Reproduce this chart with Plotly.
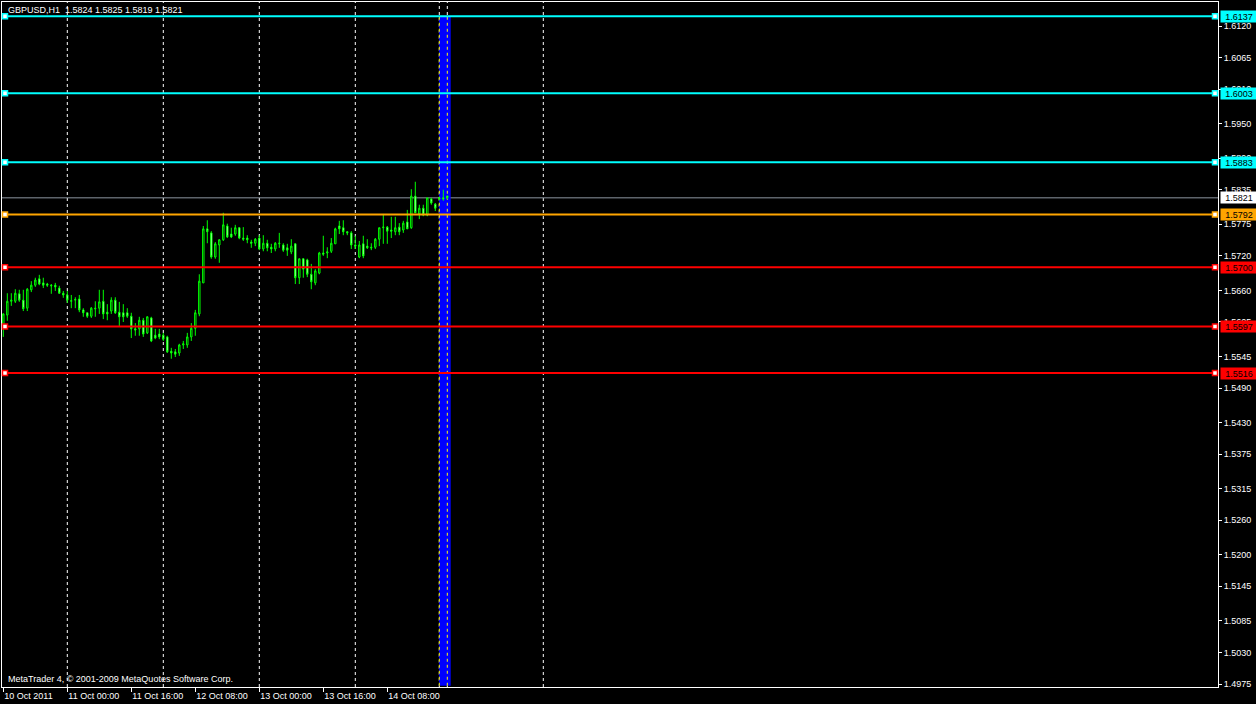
import plotly.graph_objects as go

# ---------------- data ----------------
bar_index = list(range(112))  # H1 bars from 10 Oct 2011 08:00 to 14 Oct 2011 23:00

opens = [1.5601,1.5617,1.5641,1.5641,1.5654,1.5643,1.5629,1.5661,1.5669,1.5680,
         1.5673,1.5671,1.5669,1.5669,1.5664,1.5655,1.5652,1.5641,1.5643,1.5645,
         1.5626,1.5621,1.5615,1.5629,1.5629,1.5641,1.5622,1.5624,1.5643,1.5622,
         1.5621,1.5621,1.5615,1.5593,1.5593,1.5608,1.5586,1.5612,1.5582,1.5584,
         1.5582,1.5579,1.5554,1.5553,1.5551,1.5565,1.5565,1.5579,1.5594,1.5619,
         1.5673,1.5767,1.5760,1.5718,1.5739,1.5748,1.5772,1.5758,1.5758,1.5769,
         1.5751,1.5751,1.5744,1.5742,1.5751,1.5732,1.5742,1.5735,1.5732,1.5741,
         1.5739,1.5734,1.5727,1.5741,1.5682,1.5715,1.5713,1.5688,1.5673,1.5690,
         1.5725,1.5725,1.5728,1.5741,1.5772,1.5769,1.5762,1.5760,1.5739,1.5718,
         1.5741,1.5737,1.5735,1.5735,1.5749,1.5769,1.5770,1.5765,1.5762,1.5770,
         1.5765,1.5779,1.5769,1.5824,1.5793,1.5803,1.5791,1.5819,1.5810,1.5821,
         1.5821,1.5824]
highs = [1.5620,1.5655,1.5655,1.5662,1.5661,1.5661,1.5664,1.5676,1.5682,1.5687,
         1.5682,1.5673,1.5671,1.5673,1.5668,1.5659,1.5659,1.5652,1.5648,1.5652,
         1.5629,1.5621,1.5631,1.5641,1.5661,1.5661,1.5636,1.5648,1.5648,1.5640,
         1.5636,1.5629,1.5621,1.5603,1.5614,1.5612,1.5615,1.5614,1.5593,1.5593,
         1.5586,1.5581,1.5560,1.5558,1.5567,1.5572,1.5586,1.5603,1.5626,1.5688,
         1.5772,1.5782,1.5763,1.5744,1.5749,1.5795,1.5776,1.5769,1.5774,1.5770,
         1.5770,1.5756,1.5748,1.5751,1.5756,1.5756,1.5748,1.5741,1.5744,1.5760,
         1.5742,1.5741,1.5749,1.5742,1.5715,1.5716,1.5715,1.5706,1.5697,1.5727,
         1.5755,1.5735,1.5751,1.5769,1.5781,1.5782,1.5763,1.5763,1.5755,1.5746,
         1.5755,1.5749,1.5742,1.5751,1.5769,1.5793,1.5772,1.5788,1.5788,1.5777,
         1.5781,1.5800,1.5836,1.5849,1.5809,1.5809,1.5821,1.5821,1.5812,1.5822,
         1.5835,1.5825]
lows = [1.5579,1.5607,1.5633,1.5638,1.5640,1.5624,1.5624,1.5657,1.5666,1.5669,
        1.5664,1.5666,1.5654,1.5659,1.5654,1.5647,1.5638,1.5629,1.5629,1.5622,
        1.5614,1.5612,1.5612,1.5614,1.5619,1.5610,1.5608,1.5619,1.5619,1.5598,
        1.5605,1.5612,1.5577,1.5581,1.5581,1.5579,1.5584,1.5570,1.5575,1.5575,
        1.5572,1.5551,1.5541,1.5544,1.5546,1.5558,1.5560,1.5572,1.5581,1.5615,
        1.5673,1.5742,1.5715,1.5715,1.5708,1.5746,1.5751,1.5751,1.5755,1.5749,
        1.5746,1.5742,1.5734,1.5737,1.5730,1.5728,1.5728,1.5725,1.5728,1.5734,
        1.5727,1.5720,1.5723,1.5671,1.5671,1.5682,1.5683,1.5662,1.5669,1.5688,
        1.5720,1.5716,1.5725,1.5741,1.5758,1.5756,1.5756,1.5732,1.5732,1.5716,
        1.5716,1.5732,1.5730,1.5732,1.5737,1.5741,1.5741,1.5751,1.5756,1.5756,
        1.5760,1.5767,1.5767,1.5795,1.5784,1.5789,1.5789,1.5809,1.5798,1.5817,
        1.5816,1.5819]
closes = [1.5619,1.5641,1.5643,1.5655,1.5643,1.5628,1.5662,1.5669,1.5678,1.5671,
          1.5669,1.5669,1.5668,1.5666,1.5655,1.5652,1.5643,1.5642,1.5644,1.5626,
          1.5621,1.5615,1.5629,1.5628,1.5640,1.5619,1.5619,1.5643,1.5621,1.5614,
          1.5614,1.5615,1.5593,1.5591,1.5608,1.5584,1.5614,1.5572,1.5577,1.5579,
          1.5575,1.5553,1.5551,1.5549,1.5565,1.5567,1.5579,1.5594,1.5621,1.5676,
          1.5767,1.5762,1.5718,1.5741,1.5748,1.5774,1.5753,1.5753,1.5769,1.5751,
          1.5749,1.5748,1.5742,1.5749,1.5732,1.5742,1.5734,1.5732,1.5742,1.5742,
          1.5730,1.5730,1.5737,1.5682,1.5715,1.5697,1.5688,1.5675,1.5694,1.5725,
          1.5723,1.5727,1.5742,1.5767,1.5767,1.5762,1.5760,1.5739,1.5737,1.5739,
          1.5720,1.5734,1.5734,1.5749,1.5769,1.5770,1.5763,1.5763,1.5769,1.5762,
          1.5777,1.5767,1.5824,1.5795,1.5803,1.5791,1.5821,1.5812,1.5803,1.5819,
          1.5819,1.5821]

time_tick_bars = [0, 16, 32, 48, 64, 80, 96]
time_tick_labels = ["10 Oct 2011", "11 Oct 00:00", "11 Oct 16:00", "12 Oct 08:00",
                    "13 Oct 00:00", "13 Oct 16:00", "14 Oct 08:00"]
day_separator_bars = [16, 40, 64, 88, 135]
marker_line_bars = [109, 111]
band_bars = [109, 112]
band_prices = [1.4972, 1.6137]

price_ticks = [1.6120, 1.6065, 1.6010, 1.5950, 1.5890, 1.5835, 1.5775, 1.5720, 1.5660,
               1.5605, 1.5545, 1.5490, 1.5430, 1.5375, 1.5315, 1.5260, 1.5200, 1.5145,
               1.5085, 1.5030, 1.4975]

level_prices = [1.6137, 1.6003, 1.5883, 1.5792, 1.5700, 1.5597, 1.5516]
level_colors = ["#00FFFF", "#00FFFF", "#00FFFF", "#FFA500", "#FF0000", "#FF0000", "#FF0000"]
bid_price = 1.5821

title_text = "GBPUSD,H1  1.5824 1.5825 1.5819 1.5821"
copyright_text = "MetaTrader 4, © 2001-2009 MetaQuotes Software Corp."

# ---------------- layout constants ----------------
W, H = 1256, 704
ML, MR, MT, MB = 2, 38, 2, 17
PW = W - ML - MR
PH = H - MT - MB
FONT = "Liberation Sans"

def px_x(p):
    return (p - ML) / PW

def px_y(p):
    return (H - MB - p) / PH

fig = go.Figure()
fig.add_trace(go.Candlestick(
    x=bar_index, open=opens, high=highs, low=lows, close=closes,
    increasing=dict(line=dict(color="#00FF00", width=1), fillcolor="#000000"),
    decreasing=dict(line=dict(color="#00FF00", width=1), fillcolor="#FFFFFF"),
    whiskerwidth=0, hoverinfo="skip", showlegend=False,
))

shapes = []
# day separators (white dashed)
for b in day_separator_bars + marker_line_bars:
    shapes.append(dict(type="line", xref="x", yref="paper", x0=b, x1=b, y0=0, y1=1,
                       line=dict(color="#FFFFFF", width=1, dash="3px,3px"), layer="below"))
# blue band
shapes.append(dict(type="rect", xref="x", yref="y", x0=band_bars[0] - 0.05, x1=band_bars[1] - 0.15,
                   y0=band_prices[0], y1=band_prices[1], fillcolor="#0000FF",
                   line=dict(width=0), layer="below"))
# vertical lines inside the band appear yellow
for b in marker_line_bars:
    shapes.append(dict(type="line", xref="x", yref="y", x0=b, x1=b,
                       y0=band_prices[0], y1=band_prices[1],
                       line=dict(color="#FFFF00", width=1, dash="3px,3px"), layer="below"))
# bid line
shapes.append(dict(type="line", xref="paper", yref="y", x0=0, x1=1, y0=bid_price, y1=bid_price,
                   line=dict(color="#8C96A0", width=1), layer="below"))
# horizontal levels
for p, c in zip(level_prices, level_colors):
    shapes.append(dict(type="line", xref="paper", yref="y", x0=0, x1=1, y0=p, y1=p,
                       line=dict(color=c, width=2), layer="above"))
    for xp in (5, 1215):
        shapes.append(dict(type="rect", xref="paper", yref="y",
                           xsizemode="pixel", ysizemode="pixel",
                           xanchor=px_x(xp), yanchor=p, x0=-2.5, x1=2.5, y0=-2.5, y1=2.5,
                           fillcolor="#FFFFFF", line=dict(color=c, width=1.5), layer="above"))

annotations = []
for p, c in zip(level_prices, level_colors):
    annotations.append(dict(text=f"{p:.4f}", xref="paper", yref="y", x=px_x(1220), y=p,
                            xanchor="left", yanchor="middle", showarrow=False,
                            bgcolor=c, width=36, height=11, borderpad=0, align="center",
                            font=dict(family=FONT, size=9, color="#000000")))
annotations.append(dict(text=f"{bid_price:.4f}", xref="paper", yref="y", x=px_x(1220), y=bid_price,
                        xanchor="left", yanchor="middle", showarrow=False,
                        bgcolor="#FFFFFF", width=36, height=11, borderpad=0, align="center",
                        font=dict(family=FONT, size=9, color="#000000")))
annotations.append(dict(text=title_text, xref="paper", yref="paper", x=px_x(6), y=px_y(10.5),
                        xanchor="left", yanchor="middle", showarrow=False,
                        font=dict(family=FONT, size=9, color="#FFFFFF")))
annotations.append(dict(text=copyright_text, xref="paper", yref="paper", x=px_x(6), y=px_y(678.5),
                        xanchor="left", yanchor="middle", showarrow=False,
                        font=dict(family=FONT, size=9, color="#FFFFFF")))

fig.update_layout(
    width=W, height=H,
    margin=dict(l=ML, r=MR, t=MT, b=MB, pad=0),
    paper_bgcolor="#000000", plot_bgcolor="#000000",
    showlegend=False, boxgap=0.5,
    shapes=shapes, annotations=annotations,
    xaxis=dict(range=[-0.325, 303.675], rangeslider=dict(visible=False),
               tickmode="array", tickvals=time_tick_bars, ticktext=time_tick_labels,
               ticks="outside", ticklen=4, tickcolor="#FFFFFF", tickwidth=1,
               ticklabelposition="outside right",
               tickfont=dict(family=FONT, size=9, color="#FFFFFF"),
               showgrid=False, zeroline=False,
               showline=True, linecolor="#FFFFFF", linewidth=1, mirror=True),
    yaxis=dict(range=[1.496983, 1.616176], side="right",
               tickmode="array", tickvals=price_ticks,
               ticktext=[f"{v:.4f}" for v in price_ticks],
               ticks="outside", ticklen=3, tickcolor="#FFFFFF", tickwidth=1,
               tickfont=dict(family=FONT, size=9, color="#FFFFFF"),
               showgrid=False, zeroline=False,
               showline=True, linecolor="#FFFFFF", linewidth=1, mirror=True),
)

fig.write_html(
    "out.html",
    config={"displayModeBar": False},
    post_script="document.body.style.margin='0';document.body.style.background='#000';",
)
